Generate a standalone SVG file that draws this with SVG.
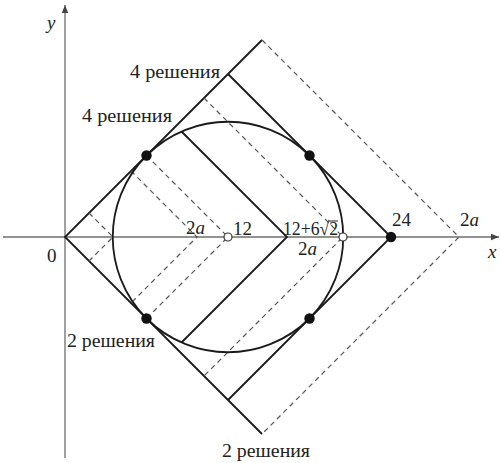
<svg xmlns="http://www.w3.org/2000/svg" width="501" height="463" viewBox="0 0 501 463">
<defs>
<style>
.ax{stroke:#6e6e6e;stroke-width:1.3;fill:none}
.s{stroke:#1a1a1a;stroke-width:1.8;fill:none;stroke-linejoin:miter}
.d{stroke:#555;stroke-width:1.2;fill:none;stroke-dasharray:5 4}
.t{font-size:19px;fill:#222}
.i{font-style:italic}
.dot{fill:#111}
.od{fill:#fff;stroke:#333;stroke-width:1.2}
</style>
<marker id="ah" viewBox="0 0 10 10" refX="10" refY="5" markerWidth="8" markerHeight="8" orient="auto" markerUnits="userSpaceOnUse">
<path d="M0,1 L10,5 L0,9 z" fill="#444"/>
</marker>
</defs>
<rect width="501" height="463" fill="#fff"/>
<g id="axes">
<line class="ax" x1="3" y1="237" x2="499" y2="237" marker-end="url(#ah)"/>
<line class="ax" x1="65" y1="458" x2="65" y2="5" marker-end="url(#ah)"/>
</g>
<g id="connectors">
<polyline class="s" points="262,40 65,237 262,434"/>
<polyline class="s" points="228,74 391,237 228,400"/>
<polyline class="s" points="181.5,131.5 287,237 181.5,342.5"/>
<polyline class="d" points="89,213 113,237 89,261"/>
<polyline class="d" points="131,171 197,237 131,303"/>
<polyline class="d" points="146.5,155.5 228,237 146.5,318.5"/>
<polyline class="d" points="204,98 343,237 204,376"/>
<polyline class="d" points="262,40 459,237 262,434"/>
</g>
<g id="circle">
<circle class="s" cx="228" cy="237" r="115.25"/>
</g>
<g id="points">
<circle class="dot" cx="146.5" cy="155.5" r="5.2"/>
<circle class="dot" cx="146.5" cy="318.5" r="5.2"/>
<circle class="dot" cx="309.5" cy="155.5" r="5.2"/>
<circle class="dot" cx="309.5" cy="318.5" r="5.2"/>
<circle class="dot" cx="391" cy="237" r="5.2"/>
<circle class="od" cx="228" cy="237" r="4"/>
<circle class="od" cx="343" cy="237" r="4"/>
</g>
<g id="labels" font-family="'Liberation Serif', 'DejaVu Serif', serif">
<text class="t i" x="47" y="29">y</text>
<text class="t" x="47" y="262">0</text>
<text class="t" x="130" y="78" textLength="90" lengthAdjust="spacingAndGlyphs">4 решения</text>
<text class="t" x="82" y="122" textLength="90" lengthAdjust="spacingAndGlyphs">4 решения</text>
<text class="t" x="67" y="347" textLength="88" lengthAdjust="spacingAndGlyphs">2 решения</text>
<text class="t" x="222" y="457" textLength="88" lengthAdjust="spacingAndGlyphs">2 решения</text>
<text class="t" x="186" y="234">2<tspan class="i">a</tspan></text>
<text class="t" x="233" y="235">12</text>
<text class="t" x="283" y="235" textLength="55" lengthAdjust="spacingAndGlyphs">12+6√2</text>
<line x1="328" y1="221" x2="338" y2="221" stroke="#222" stroke-width="1"/>
<text class="t" x="298" y="255">2<tspan class="i">a</tspan></text>
<text class="t" x="392" y="226">24</text>
<text class="t" x="460" y="226">2<tspan class="i">a</tspan></text>
<text class="t i" x="488" y="258">x</text>
</g>
</svg>
